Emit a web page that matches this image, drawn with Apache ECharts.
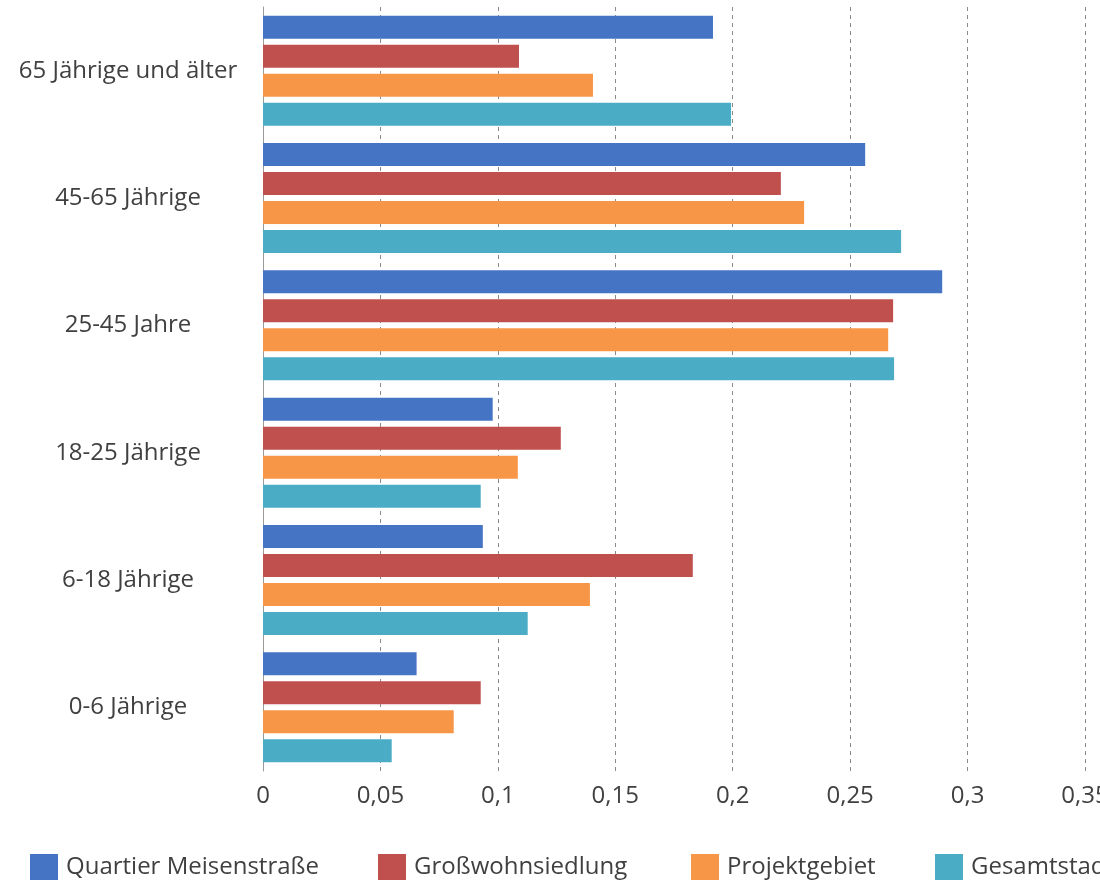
<!DOCTYPE html>
<html>
<head>
<meta charset="utf-8">
<script src="https://cdn.jsdelivr.net/npm/echarts@6/dist/echarts.min.js"></script>
<style>
html,body{margin:0;padding:0;overflow:hidden;background:#fff;width:1100px;height:887px;}
#c{width:1200px;height:887px;}
</style>
</head>
<body>
<div id="c"></div>
<script>
const categories = ["65 Jährige und älter", "45-65 Jährige", "25-45 Jahre", "18-25 Jährige", "6-18 Jährige", "0-6 Jährige"];
const seriesNames = ["Quartier Meisenstraße", "Großwohnsiedlung", "Projektgebiet", "Gesamtstadt"];
const quartier = [0.1916, 0.2564, 0.2892, 0.0978, 0.0936, 0.0654];
const grosswohn = [0.1090, 0.2205, 0.2683, 0.1268, 0.1830, 0.0927];
const projekt = [0.1405, 0.2304, 0.2662, 0.1085, 0.1392, 0.0812];
const gesamt = [0.1993, 0.2717, 0.2687, 0.0927, 0.1127, 0.0548];
const xTicks = { min: 0, max: 0.35, interval: 0.05 };
const colors = ["#4674C4", "#C0504D", "#F79646", "#4BACC6"];

const FONT = "Open Sans";
const values = [quartier, grosswohn, projekt, gesamt];
const chart = echarts.init(document.getElementById('c'));
const legendLeft = [25, 373, 686, 930];
chart.setOption({
  animation: false,
  color: colors,
  textStyle: { fontFamily: FONT },
  grid: { left: 263, right: 115, top: 7, bottom: 116 },
  legend: seriesNames.map((n, i) => ({
    data: [n], left: legendLeft[i], bottom: 2, itemWidth: 28, itemHeight: 26, itemGap: 0,
    icon: 'rect', textStyle: { fontSize: 24, color: '#404040', fontFamily: FONT, padding: [0,0,0,3] }
  })),
  xAxis: {
    type: 'value', min: xTicks.min, max: xTicks.max, interval: xTicks.interval,
    axisLine: { show: false }, axisTick: { show: false },
    splitLine: { show: true, lineStyle: { color: '#8a8a8a', type: [4, 4], width: 1 } },
    axisLabel: { fontSize: 24, color: '#404040', margin: 13, fontFamily: FONT,
      formatter: v => String(+v.toFixed(2)).replace('.', ',') }
  },
  yAxis: {
    type: 'category', data: categories, inverse: true,
    axisLine: { show: true, lineStyle: { color: '#9a9a9a', width: 1 } },
    axisTick: { show: false },
    axisLabel: { fontSize: 24, color: '#404040', align: 'center', margin: 135, fontFamily: FONT, padding: [5, 0, 0, 0] }
  },
  series: seriesNames.map((n, i) => ({
    name: n, type: 'bar', data: values[i], barWidth: 23, barGap: '26%',
    itemStyle: { color: colors[i] }
  }))
});
</script>
</body>
</html>
